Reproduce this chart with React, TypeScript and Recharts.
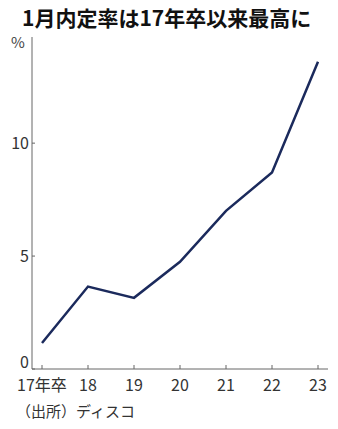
import { Line, LineChart, XAxis, YAxis } from "recharts";

const years = ["17年卒", "18", "19", "20", "21", "22", "23"];
const rates = [1.15, 3.65, 3.15, 4.75, 7.0, 8.7, 13.6];
const yTicks = [0, 5, 10];

const data = years.map((year, i) => ({ year, rate: rates[i] }));

const FONT = '"Noto Sans CJK JP", "Noto Sans", sans-serif';
const AXIS = "#666";

function YTick({ x, y, payload }: { x?: number; y?: number; payload?: { value: number } }) {
  if (x == null || y == null || !payload) return null;
  // zero label sits higher so it clears the first year label
  const ty = payload.value === 0 ? y - 7 : y;
  return (
    <g>
      <line x1={x} x2={x + 3} y1={y} y2={y} stroke={AXIS} />
      <text x={x - 3} y={ty} dy="0.35em" textAnchor="end" fontSize={16} fill="#333" fontFamily={FONT}>
        {payload.value}
      </text>
    </g>
  );
}

function XTick({ x, y, payload }: { x?: number; y?: number; payload?: { value: string } }) {
  if (x == null || y == null || !payload) return null;
  return (
    <g>
      <line x1={x} x2={x} y1={y - 4} y2={y} stroke={AXIS} />
      <text x={x} y={y + 22} textAnchor="middle" fontSize={16} fill="#333" fontFamily={FONT}>
        {payload.value}
      </text>
    </g>
  );
}

export default function App() {
  return (
    <div
      style={{
        position: "absolute",
        left: 0,
        top: 0,
        width: 338,
        height: 429,
        background: "#fff",
        fontFamily: FONT,
      }}
    >
      <div
        style={{
          position: "absolute",
          left: 22,
          top: 2,
          fontSize: 21,
          fontWeight: 700,
          color: "#111",
          whiteSpace: "nowrap",
          lineHeight: "30px",
        }}
      >
        1月内定率は17年卒以来最高に
      </div>
      <div style={{ position: "absolute", left: 11, top: 32, fontSize: 15, color: "#444", lineHeight: "20px" }}>%</div>
      <LineChart
        width={338}
        height={429}
        data={data}
        margin={{ top: 37, right: 10, bottom: 30, left: 0 }}
      >
        <YAxis
          width={32}
          domain={[0, 14.7]}
          ticks={yTicks}
          tickSize={0}
          tickMargin={0}
          tickLine={false}
          axisLine={{ stroke: AXIS }}
          tick={<YTick />}
        />
        <XAxis
          dataKey="year"
          height={30}
          padding={{ left: 10, right: 10 }}
          tickSize={0}
          tickMargin={0}
          tickLine={false}
          axisLine={{ stroke: AXIS }}
          tick={<XTick />}
          interval={0}
        />
        <Line
          type="linear"
          dataKey="rate"
          stroke="#1b2a5c"
          strokeWidth={2.5}
          dot={false}
          isAnimationActive={false}
        />
      </LineChart>
      <div
        style={{
          position: "absolute",
          left: 16,
          top: 400,
          fontSize: 15,
          color: "#333",
          whiteSpace: "nowrap",
          lineHeight: "22px",
        }}
      >
        （出所）ディスコ
      </div>
    </div>
  );
}
